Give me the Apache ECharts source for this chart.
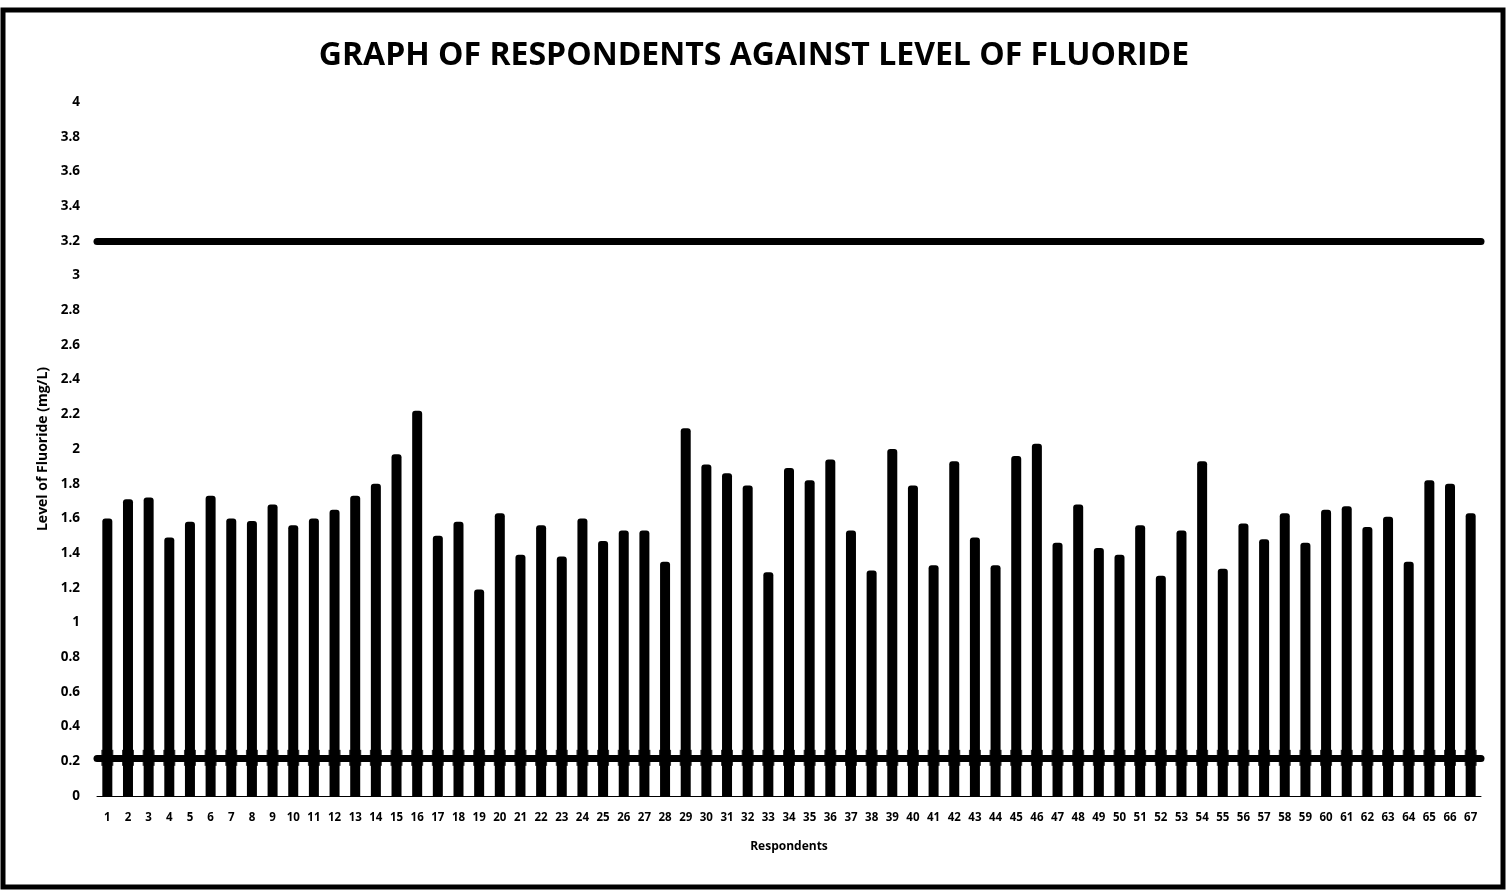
<!DOCTYPE html>
<html>
<head>
<meta charset="utf-8">
<script src="https://cdn.jsdelivr.net/npm/echarts@6/dist/echarts.min.js"></script>
<style>
html,body{margin:0;padding:0;background:#fff;}
#chart{width:1508px;height:892px;}
</style>
</head>
<body>
<div id="chart"></div>
<script>
const respondents = Array.from({length: 67}, (_, i) => String(i + 1));
const fluorideLevels = [
  1.60, 1.71, 1.72, 1.49, 1.58, 1.73, 1.60, 1.585, 1.68, 1.56,
  1.60, 1.65, 1.73, 1.80, 1.97, 2.22, 1.50, 1.58, 1.19, 1.63,
  1.39, 1.56, 1.38, 1.60, 1.47, 1.53, 1.53, 1.35, 2.12, 1.91,
  1.86, 1.79, 1.29, 1.89, 1.82, 1.94, 1.53, 1.30, 2.00, 1.79,
  1.33, 1.93, 1.49, 1.33, 1.96, 2.03, 1.46, 1.68, 1.43, 1.39,
  1.56, 1.27, 1.53, 1.93, 1.31, 1.57, 1.48, 1.63, 1.46, 1.65,
  1.67, 1.55, 1.61, 1.35, 1.82, 1.80, 1.63
];
const upperLimit = 3.2;
const lowerLimit = 0.22;
const yTicks = ['0','0.2','0.4','0.6','0.8','1','1.2','1.4','1.6','1.8','2','2.2','2.4','2.6','2.8','3','3.2','3.4','3.6','3.8','4'];

const chart = echarts.init(document.getElementById('chart'));
const FONT = '"Open Sans", "DejaVu Sans", sans-serif';
chart.setOption({
  animation: false,
  backgroundColor: '#fff',
  title: {
    text: 'GRAPH OF RESPONDENTS AGAINST LEVEL OF FLUORIDE',
    left: 'center', top: 35,
    textStyle: {fontFamily: FONT, fontWeight: 700, fontSize: 32, color: '#000'}
  },
  graphic: [{
    type: 'rect', shape: {x: 3, y: 10, width: 1500, height: 877},
    style: {fill: 'none', stroke: '#000', lineWidth: 5}, silent: true, z: 100
  }],
  grid: {left: 97, right: 27, top: 102, bottom: 96},
  xAxis: {
    type: 'category', data: respondents,
    name: 'Respondents', nameLocation: 'middle', nameGap: 45,
    nameTextStyle: {fontFamily: FONT, fontWeight: 700, fontSize: 12, color: '#000'},
    axisLine: {lineStyle: {color: '#000', width: 1}},
    axisTick: {show: false},
    axisLabel: {interval: 0, fontFamily: FONT, fontWeight: 700, fontSize: 11.5, color: '#000', margin: 16}
  },
  yAxis: {
    type: 'value', min: 0, max: 4, interval: 0.2,
    name: 'Level of Fluoride (mg/L)', nameLocation: 'middle', nameGap: 44, nameRotate: 90,
    nameTextStyle: {fontFamily: FONT, fontWeight: 700, fontSize: 14, color: '#000'},
    axisLine: {show: false}, axisTick: {show: false}, splitLine: {show: false},
    axisLabel: {
      fontFamily: FONT, fontWeight: 700, fontSize: 13.5, color: '#000', margin: 17,
      formatter: (v) => yTicks[Math.round(v / 0.2)]
    }
  },
  series: [{
    type: 'bar', data: fluorideLevels, barWidth: 10,
    itemStyle: {color: '#000', borderRadius: [3, 3, 0, 0]},
    markLine: {
      silent: true, symbol: 'none', label: {show: false},
      lineStyle: {color: '#000', type: 'solid', width: 7, cap: 'round'},
      data: [{yAxis: upperLimit}, {yAxis: lowerLimit}]
    },
    z: 2
  }, {
    type: 'scatter',
    data: respondents.map(() => lowerLimit),
    symbol: 'rect', symbolSize: [12, 16],
    itemStyle: {color: '#000'}, z: 3, silent: true
  }]
});
</script>
</body>
</html>
